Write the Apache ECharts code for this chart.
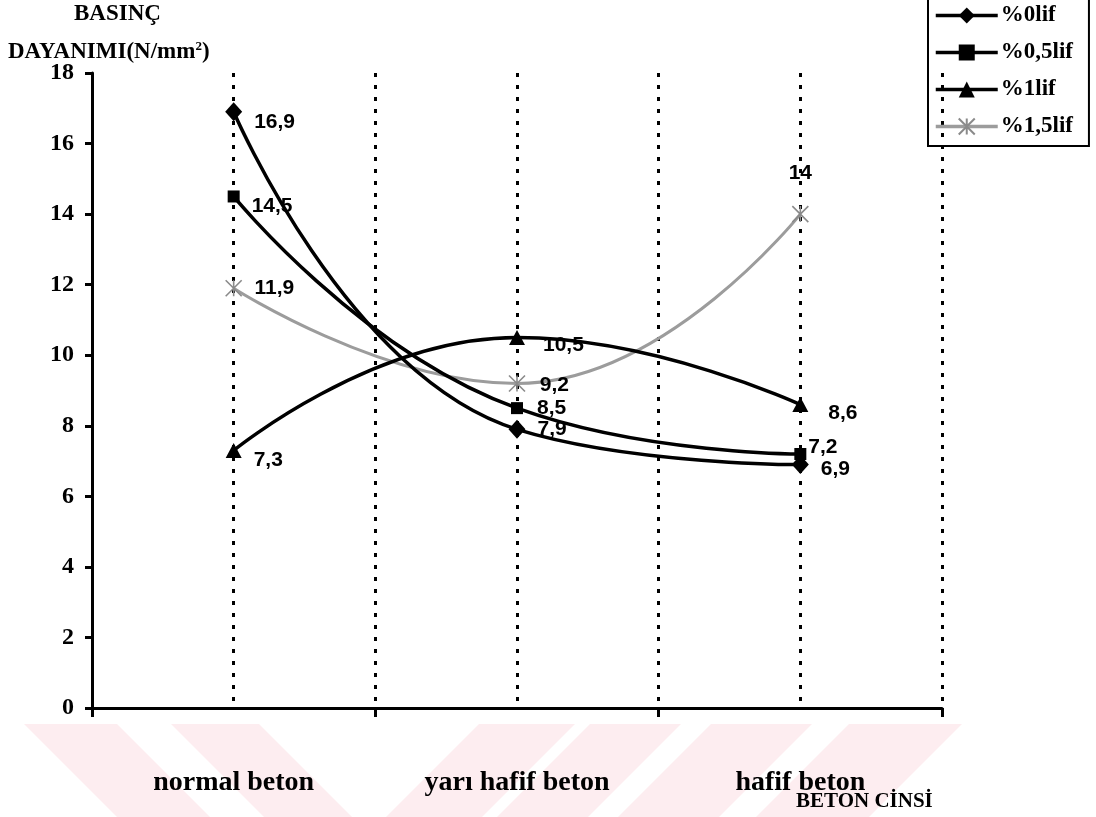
<!DOCTYPE html>
<html>
<head>
<meta charset="utf-8">
<script src="https://cdn.jsdelivr.net/npm/echarts@6/dist/echarts.min.js"></script>
<style>
html,body{margin:0;padding:0;background:#fff;}
#chart{width:1096px;height:817px;}
</style>
</head>
<body>
<div id="chart"></div>
<script>
// ---- data ----
const categories = ['normal beton', 'yarı hafif beton', 'hafif beton'];
const seriesNames = ['%0lif', '%0,5lif', '%1lif', '%1,5lif'];
const lif0 = [16.9, 7.9, 6.9];
const lif05 = [14.5, 8.5, 7.2];
const lif1 = [7.3, 10.5, 8.6];
const lif15 = [11.9, 9.2, 14];
const yTicks = [0, 2, 4, 6, 8, 10, 12, 14, 16, 18];

// ---- label placement (style only) ----
const labelPlace = [
  [{d: 12, o: [0, 10]}, {d: 12, o: [0, 0]}, {d: 12, o: [0, 5]}],
  [{d: 12, o: [0, 10]}, {d: 14, o: [0, 0]}, {d: 2, o: [0, -7]}],
  [{d: 12, o: [0, 10]}, {d: 18, o: [0, 8]}, {d: 20, o: [0, 9]}],
  [{d: 12, o: [0, 0]}, {d: 14, o: [0, 2]}, {d: 22, o: [0, 0], pos: 'top'}]
];

const fmt = v => String(v).replace('.', ',');
const serifFamily = '"Liberation Serif", "DejaVu Serif", serif';
const serifBold = {fontFamily: serifFamily, fontWeight: 'bold', color: '#000'};

function buildData(values, idx) {
  return values.map((v, i) => {
    const p = labelPlace[idx][i];
    return {
      value: v,
      label: {position: p.pos || 'right', distance: p.d, offset: p.o}
    };
  });
}

const chart = echarts.init(document.getElementById('chart'), null, {renderer: 'canvas'});

const symbols = ['diamond', 'rect', 'triangle', 'path://M0,0L10,10M10,0L0,10M5,0L5,10'];
const symbolSizes = [[17, 19], 12, [16, 15], 16];
const colors = ['#000', '#000', '#000', '#9c9c9c'];
const dataSets = [lif0, lif05, lif1, lif15];

const series = dataSets.map((vals, i) => ({
  name: seriesNames[i],
  type: 'line',
  xAxisIndex: 0,
  yAxisIndex: 0,
  smooth: 0.5,
  data: buildData(vals, i),
  symbol: symbols[i],
  symbolSize: symbolSizes[i],
  z: i === 3 ? 3 : 4,
  lineStyle: {color: colors[i], width: i === 3 ? 3 : 3.5},
  itemStyle: i === 3
    ? {color: 'rgba(0,0,0,0)', borderColor: '#8a8a8a', borderWidth: 1.6}
    : {color: '#000', borderColor: '#000', borderWidth: 0},
  label: {
    show: true,
    formatter: p => fmt(p.value),
    fontFamily: '"Liberation Sans", Arial, sans-serif',
    fontWeight: 'bold',
    fontSize: 21,
    color: '#000'
  }
}));

// watermark bands (decorative)
const wmBands = [
  [[24, 724], [117, 724], [210, 817], [117, 817]],
  [[171, 724], [259, 724], [352, 817], [264, 817]],
  [[479, 724], [575, 724], [482, 817], [386, 817]],
  [[590, 724], [681, 724], [588, 817], [497, 817]],
  [[711, 724], [812, 724], [719, 817], [618, 817]],
  [[849, 724], [962, 724], [869, 817], [756, 817]]
];

const option = {
  backgroundColor: '#fff',
  animation: false,
  grid: {left: 92, right: 154, top: 73, bottom: 109, containLabel: false},
  legend: {
    orient: 'vertical',
    left: 928,
    top: -6,
    padding: [10, 16, 8, 6],
    itemGap: 14,
    itemWidth: 62,
    itemHeight: 20,
    borderColor: '#000',
    borderWidth: 2,
    data: seriesNames,
    lineStyle: {width: 3.5},
    textStyle: Object.assign({fontSize: 23, padding: [0, 0, 0, -2]}, serifBold)
  },
  xAxis: [
    {
      type: 'category',
      gridIndex: 0,
      data: categories,
      boundaryGap: true,
      axisLine: {lineStyle: {color: '#000', width: 3}},
      axisTick: {show: true, length: 9, lineStyle: {color: '#000', width: 3}},
      axisLabel: Object.assign({margin: 61, fontSize: 28}, serifBold),
      splitLine: {show: false},
      z: 5
    },
    {
      type: 'value',
      gridIndex: 0,
      min: 0,
      max: 6,
      interval: 1,
      position: 'bottom',
      axisLine: {show: false},
      axisTick: {show: false},
      axisLabel: {show: false},
      splitLine: {show: true, lineStyle: {color: '#000', width: 3, type: [4, 8]}}
    }
  ],
  yAxis: {
    type: 'value',
    min: yTicks[0],
    max: yTicks[yTicks.length - 1],
    interval: 2,
    axisLine: {show: true, lineStyle: {color: '#000', width: 3}},
    axisTick: {show: true, length: 7, lineStyle: {color: '#000', width: 3}},
    axisLabel: Object.assign({margin: 18, fontSize: 24}, serifBold),
    splitLine: {show: false},
    z: 5
  },
  graphic: [
    ...wmBands.map(pts => ({
      type: 'polygon',
      z: -10,
      silent: true,
      shape: {points: pts},
      style: {fill: '#fdedf0'}
    })),
    {
      type: 'text',
      left: 74, top: 3,
      style: {text: 'BASINÇ', fontSize: 23, fontFamily: serifFamily, fontWeight: 'bold', fill: '#000'}
    },
    {
      type: 'text',
      left: 8, top: 40,
      style: {
        text: '{a|DAYANIMI(N/mm}{s|2}{a|)}',
        fill: '#000',
        rich: {
          a: {fontSize: 23, fontFamily: serifFamily, fontWeight: 'bold', fill: '#000', verticalAlign: 'bottom'},
          s: {fontSize: 13, fontFamily: serifFamily, fontWeight: 'bold', fill: '#000', verticalAlign: 'top', padding: [0, 0, 11, 0]}
        }
      }
    },
    {
      type: 'text',
      left: 796, top: 791,
      style: {text: 'BETON CİNSİ', fontSize: 21, fontFamily: serifFamily, fontWeight: 'bold', fill: '#000'}
    }
  ],
  series: series
};

chart.setOption(option);
</script>
</body>
</html>
